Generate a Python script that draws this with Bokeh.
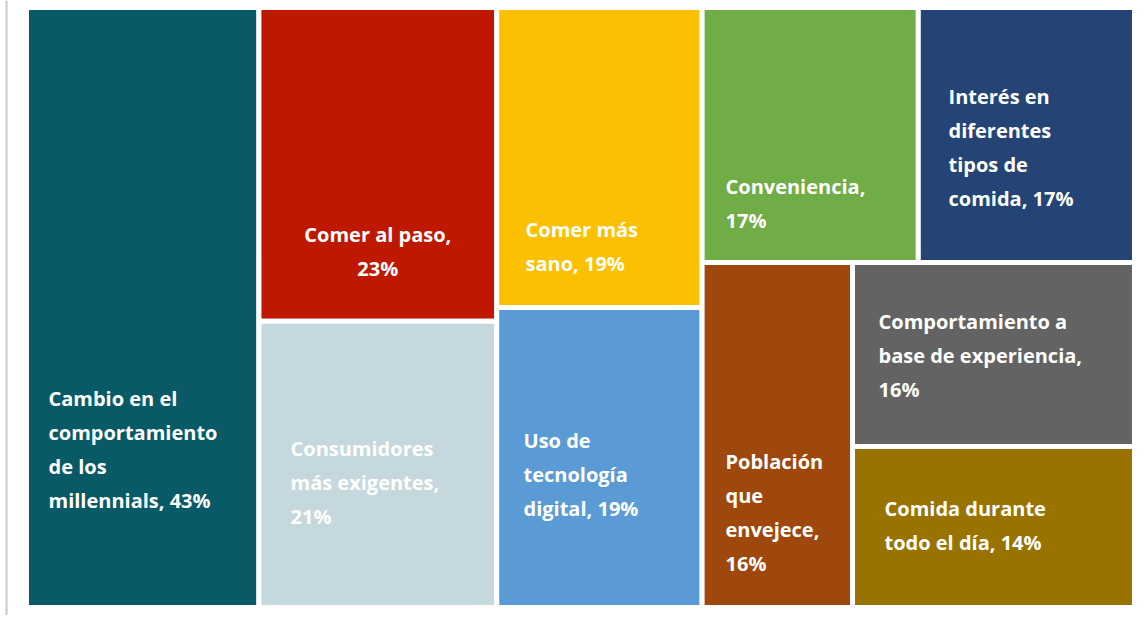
from bokeh.plotting import figure
from bokeh.models import Range1d, ColumnDataSource, Span
from bokeh.core.properties import value
from bokeh.embed import file_html
from bokeh.resources import INLINE

# ---- data ----
labels = [
    "Cambio en el\ncomportamiento\nde los\nmillennials, 43%",
    "Comer al paso,\n23%",
    "Consumidores\nmás exigentes,\n21%",
    "Comer más\nsano, 19%",
    "Uso de\ntecnología\ndigital, 19%",
    "Conveniencia,\n17%",
    "Interés en\ndiferentes\ntipos de\ncomida, 17%",
    "Población\nque\nenvejece,\n16%",
    "Comportamiento a\nbase de experiencia,\n16%",
    "Comida durante\ntodo el día, 14%",
]
values = [43, 23, 21, 19, 19, 17, 17, 16, 16, 14]
colors = ["#075A66", "#BE1900", "#C5D8DD", "#FBC002", "#5B9BD5",
          "#70AD47", "#244476", "#9E480E", "#636363", "#997300"]

# treemap grouping (slice-and-dice): h = side by side, v = stacked
tree = ("h", [0, ("v", [1, 2]), ("v", [3, 4]),
              ("v", [("h", [5, 6]), ("h", [7, ("v", [8, 9])])])])

# ---- layout (screen-pixel data units) ----
W, H = 1139, 615
X0, X1, Y0, Y1 = 26.0, 1134.0, 7.0, 607.0

def node_value(n):
    if isinstance(n, int):
        return values[n]
    return sum(node_value(c) for c in n[1])

cells = {}
def layout(n, x0, y0, x1, y1):
    if isinstance(n, int):
        cells[n] = (x0, y0, x1, y1)
        return
    kind, kids = n
    tot = node_value(n)
    pos = x0 if kind == "h" else y0
    for k in kids:
        frac = node_value(k) / tot
        if kind == "h":
            w = (x1 - x0) * frac
            layout(k, pos, y0, pos + w, y1)
            pos += w
        else:
            h = (y1 - y0) * frac
            layout(k, x0, pos, x1, pos + h)
            pos += h

layout(tree, X0, Y0, X1, Y1)

n = len(values)
rs = ColumnDataSource(dict(
    l=[cells[i][0] for i in range(n)], r=[cells[i][2] for i in range(n)],
    t=[cells[i][1] for i in range(n)], b=[cells[i][3] for i in range(n)],
    c=colors))

p = figure(width=W, height=H, output_backend="svg", toolbar_location=None,
           x_range=Range1d(0, W), y_range=Range1d(H, 0),
           min_border=0, outline_line_color=None)
p.axis.visible = False
p.grid.visible = False
p.background_fill_color = "white"
p.border_fill_color = "white"

p.quad(left="l", right="r", top="t", bottom="b", source=rs,
       fill_color="c", line_color="white", line_width=5)

p.add_layout(Span(location=6, dimension="height", line_color="#C8C8C8", line_width=2))

# label placement relative to cell: (dx from left or None=centered, first-line dy from top)
place = [(22, 391), (None, 227), (31.6, 127.4), (28.8, 222), (26.8, 133),
         (23.4, 179), (30.2, 89), (23.4, 199), (26, 59), (32, 62)]
LINE = 34
tx, ty, tt, ta = [], [], [], []
for i in range(n):
    x0, y0, x1, y1 = cells[i]
    dx, dy = place[i]
    for j, line in enumerate(labels[i].split("\n")):
        if dx is None:
            tx.append((x0 + x1) / 2); ta.append("center")
        else:
            tx.append(x0 + dx); ta.append("left")
        ty.append(y0 + dy + j * LINE)
        tt.append(line)

ts = ColumnDataSource(dict(x=tx, y=ty, t=tt, a=ta))
p.text(x="x", y="y", text="t", source=ts, text_align="a", text_baseline="middle",
       text_color="white", text_font=value("Open Sans"), text_font_style="bold",
       text_font_size="20px")

open("out.html", "w").write(file_html(p, INLINE))
